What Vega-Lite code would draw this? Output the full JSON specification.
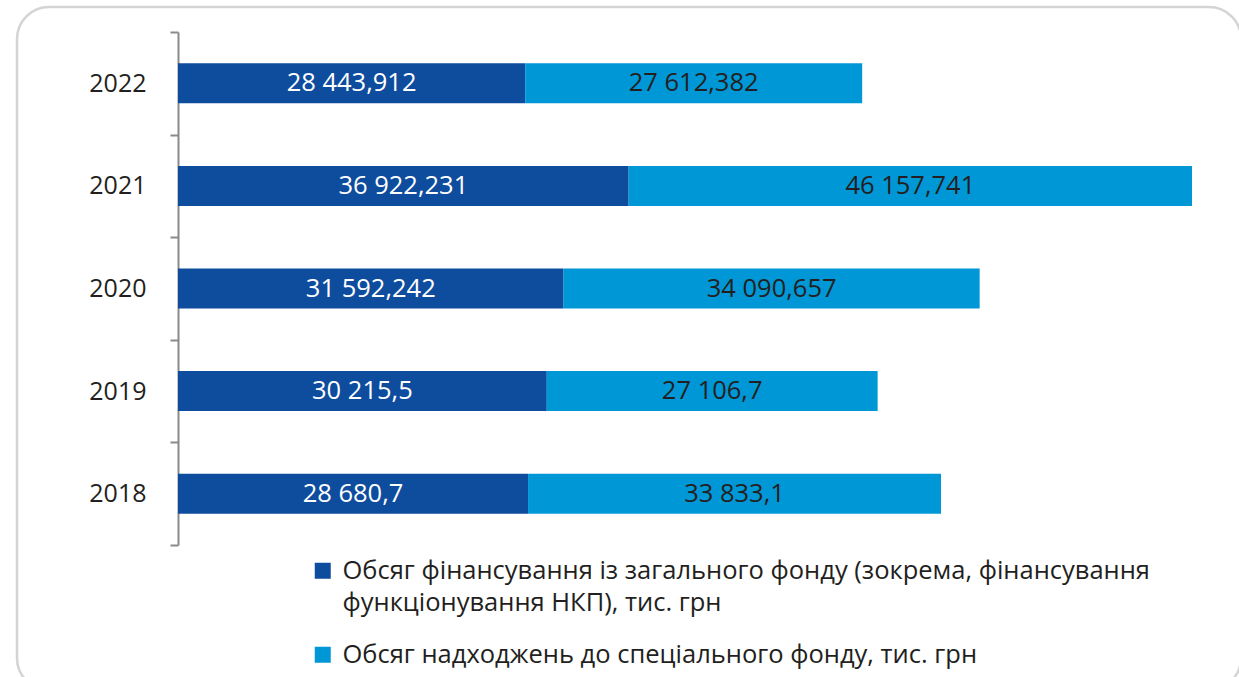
{
  "$schema": "https://vega.github.io/schema/vega-lite/v6.json",
  "autosize": "none",
  "padding": {"left": 17, "top": 7, "right": 0, "bottom": 0},
  "width": 1224,
  "height": 683,
  "background": "white",
  "config": {
    "view": {"stroke": "#d4d4d4", "strokeWidth": 2.5, "cornerRadius": 32},
    "locale": {"number": {"decimal": ",", "thousands": " ", "grouping": [3], "currency": ["", ""]}},
    "font": "Open Sans",
    "style": {"guide-label": {"lineHeight": 32}}
  },
  "data": {
    "values": [
      {"year": "2022", "series": "Обсяг фінансування із загального фонду (зокрема, фінансування функціонування НКП), тис. грн", "value": 28443.912},
      {"year": "2022", "series": "Обсяг надходжень до спеціального фонду, тис. грн", "value": 27612.382},
      {"year": "2021", "series": "Обсяг фінансування із загального фонду (зокрема, фінансування функціонування НКП), тис. грн", "value": 36922.231},
      {"year": "2021", "series": "Обсяг надходжень до спеціального фонду, тис. грн", "value": 46157.741},
      {"year": "2020", "series": "Обсяг фінансування із загального фонду (зокрема, фінансування функціонування НКП), тис. грн", "value": 31592.242},
      {"year": "2020", "series": "Обсяг надходжень до спеціального фонду, тис. грн", "value": 34090.657},
      {"year": "2019", "series": "Обсяг фінансування із загального фонду (зокрема, фінансування функціонування НКП), тис. грн", "value": 30215.5},
      {"year": "2019", "series": "Обсяг надходжень до спеціального фонду, тис. грн", "value": 27106.7},
      {"year": "2018", "series": "Обсяг фінансування із загального фонду (зокрема, фінансування функціонування НКП), тис. грн", "value": 28680.7},
      {"year": "2018", "series": "Обсяг надходжень до спеціального фонду, тис. грн", "value": 33833.1}
    ]
  },
  "transform": [
    {"stack": "value", "groupby": ["year"], "sort": [{"field": "series", "order": "descending"}], "as": ["x0", "x1"]},
    {"calculate": "(datum.x0 + datum.x1) / 2", "as": "xm"}
  ],
  "encoding": {
    "y": {
      "field": "year",
      "type": "nominal",
      "sort": ["2022", "2021", "2020", "2019", "2018"],
      "scale": {"range": [25, 538], "paddingInner": 0, "paddingOuter": 0},
      "axis": {
        "title": null,
        "tickBand": "extent",
        "offset": -161,
        "domainColor": "#8a8a8a",
        "domainWidth": 2,
        "tickColor": "#8a8a8a",
        "tickWidth": 2,
        "tickSize": 8,
        "labelFontSize": 25,
        "labelFont": "Open Sans",
        "labelColor": "#231f20",
        "labelPadding": 24,
        "grid": false
      }
    }
  },
  "layer": [
    {
      "mark": {"type": "bar", "height": {"band": 0.39}},
      "encoding": {
        "x": {"field": "x0", "type": "quantitative", "scale": {"domain": [0, 83080], "range": [161, 1175], "nice": false, "zero": false}, "axis": null},
        "x2": {"field": "x1"},
        "color": {
          "field": "series",
          "type": "nominal",
          "scale": {
            "domain": ["Обсяг фінансування із загального фонду (зокрема, фінансування функціонування НКП), тис. грн", "Обсяг надходжень до спеціального фонду, тис. грн"],
            "range": ["#0e4c9e", "#0097d7"]
          },
          "legend": {
            "title": null,
            "orient": "none",
            "legendX": 293,
            "legendY": 551,
            "direction": "vertical",
            "symbolType": "square",
            "symbolSize": 256,
            "symbolStrokeWidth": 0,
            "symbolOpacity": 1,
            "labelFontSize": 25.5,
            "labelFont": "Open Sans",
            "labelColor": "#231f20",
            "labelOffset": 7,
            "labelLimit": 1000,
            "rowPadding": 25,
            "labelExpr": "indexof(datum.label, 'НКП') >= 0 ? ['Обсяг фінансування із загального фонду (зокрема, фінансування', 'функціонування НКП), тис. грн'] : datum.label"
          }
        }
      }
    },
    {
      "mark": {"type": "text", "fontSize": 25.5, "font": "Open Sans"},
      "encoding": {
        "x": {"field": "xm", "type": "quantitative"},
        "text": {"field": "value", "type": "quantitative", "format": ","},
        "color": {"condition": {"test": "indexof(datum.series, 'НКП') >= 0", "value": "#ffffff"}, "value": "#231f20"}
      }
    }
  ]
}
